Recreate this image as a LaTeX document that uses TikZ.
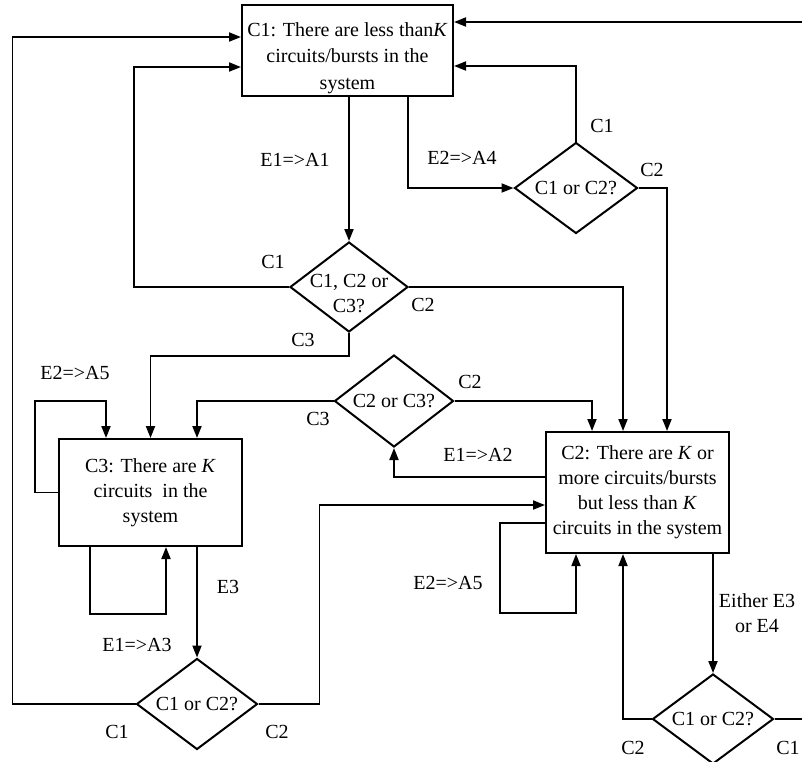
\documentclass[tikz,border=0pt]{standalone}
\usepackage{fontspec}
\setmainfont{Liberation Serif}
\usetikzlibrary{arrows.meta,shapes.geometric,calc}
\begin{document}
\begin{tikzpicture}[x=1pt,y=-1pt,
  box/.style={draw, line width=2pt, inner sep=0pt},
  dia/.style={draw, diamond, line width=2pt, inner sep=0pt},
  ln/.style={line width=1.8pt},
  arr/.style={ln, -{Triangle[length=12pt,width=9pt]}},
  lbl/.style={inner sep=0pt, align=center},
  font=\fontsize{20}{25}\selectfont]
\clip (0,0) rectangle (802,761);
\fill[white] (0,0) rectangle (802,761);
% boxes
\node[box, minimum width=211pt, minimum height=91pt] (c1) at (347.5,50.5) {};
\node[lbl, font=\fontsize{20}{26.5}\selectfont] (c1t) at (347.5,58) {C1: There are less than\textit{K}\\circuits/bursts in the\\system};
\node[box, minimum width=183pt, minimum height=107pt, align=center] (c3) at (150.5,492.5) {C3: There are \textit{K}\\circuits~ in the\\system};
\node[box, minimum width=183pt, minimum height=121pt, align=center] (c2) at (637.5,492.5) {C2: There are \textit{K} or\\more circuits/bursts\\but less than \textit{K}\\circuits in the system};
% diamonds
\node[dia, minimum width=123pt, minimum height=91pt] (d1) at (576,188) {};
\node[lbl] (d1t) at (d1) {C1 or C2?};
\node[dia, minimum width=118pt, minimum height=90pt] (d2) at (349,287) {};
\node[lbl] (d2t) at (349,294) {C1, C2 or\\C3?};
\node[dia, minimum width=119pt, minimum height=92pt] (d3) at (394,401) {};
\node[lbl] (d3t) at (d3) {C2 or C3?};
\node[dia, minimum width=121pt, minimum height=91pt] (d4) at (197,704) {};
\node[lbl] (d4t) at (d4) {C1 or C2?};
\node[dia, minimum width=121pt, minimum height=90pt] (d5) at (713,719) {};
\node[lbl] (d5t) at (d5) {C1 or C2?};
% free ends
\coordinate (tr) at (802,22);
\coordinate (br) at (802,719);
% connectors
\draw[arr] (tr) -- (tr -| c1.east);
\draw[arr] (d1.north) |- ([yshift=-15.5pt]c1.east);
\draw[arr] (d2.north |- c1.south) -- (d2.north);
\draw[arr] ([xshift=60.5pt]c1.south) |- (d1.west);
\draw[arr] (d1.east) -| ([xshift=29.5pt]c2.north);
\draw[arr] (d2.west) -- ++(-155,0) |- ([yshift=-16.5pt]c1.west);
\draw[arr] (d2.east) -| ([xshift=-14.5pt]c2.north);
\draw[arr] (d2.south) -- ++(0,23) -| (c3.north);
\draw[arr] (d3.west) -| ([xshift=46.5pt]c3.north);
\draw[arr] (d3.east) -| ([xshift=-45.5pt]c2.north);
\draw[arr] ([yshift=15.5pt]c2.west) -| (d3.south);
\draw[arr] (c3.west) -- ++(-23,0) -- ++(0,-91.5) -| ([xshift=-44.5pt]c3.north);
\draw[arr] ([xshift=-60.5pt]c3.south) -- ++(0,67) -| ([xshift=15.5pt]c3.south);
\draw[arr] (d4.north |- c3.south) -- (d4.north);
\draw[arr] (d4.west) -- ++(-123,0) |- ([yshift=13.5pt]c1.west);
\draw[arr] (d4.east) -- ++(61,0) |- ([yshift=-12.5pt]c2.west);
\draw[arr] ([yshift=-30.5pt]c2.west) -- ++(-45,0) -- ++(0,90) -| ([xshift=-61.5pt]c2.south);
\draw[arr] (d5.north |- c2.south) -- (d5.north);
\draw[arr] (d5.west) -| ([xshift=-14.5pt]c2.south);
\draw[ln] (d5.east) -- (br);
% labels
\node[lbl] (l1) at (295,160) {E1=>A1};
\node[lbl] (l2) at (462,158) {E2=>A4};
\node[lbl] (l3) at (602,126) {C1};
\node[lbl] (l4) at (652,170) {C2};
\node[lbl] (l5) at (273,262) {C1};
\node[lbl] (l6) at (423,305) {C2};
\node[lbl] (l7) at (303,340) {C3};
\node[lbl] (l8) at (75,373) {E2=>A5};
\node[lbl] (l9) at (470,382) {C2};
\node[lbl] (l10) at (318,419) {C3};
\node[lbl] (l11) at (478,455) {E1=>A2};
\node[lbl] (l12) at (228,587) {E3};
\node[lbl] (l13) at (448,583) {E2=>A5};
\node[lbl] (l14) at (757,613) {Either E3\\or E4};
\node[lbl] (l15) at (137,645) {E1=>A3};
\node[lbl] (l16) at (117,732) {C1};
\node[lbl] (l17) at (277,732) {C2};
\node[lbl] (l18) at (633,748) {C2};
\node[lbl] (l19) at (788,748) {C1};
\end{tikzpicture}
\end{document}
